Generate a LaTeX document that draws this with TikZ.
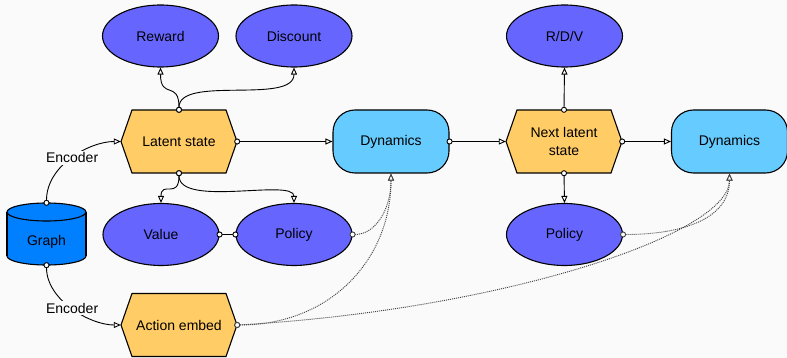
\documentclass[tikz,border=0pt]{standalone}
\usepackage{fontspec}
\setmainfont{Liberation Sans}
\usetikzlibrary{arrows.meta,shapes.geometric}
\definecolor{bgc}{HTML}{FAFAFA}
\definecolor{ellc}{HTML}{6666FF}
\definecolor{hexc}{HTML}{FFCC66}
\definecolor{dync}{HTML}{66CCFF}
\definecolor{cylc}{HTML}{007FFF}
\newcommand\myhex[3]{%
  \path[draw, line width=1.1pt, fill=hexc, shift={#2}] (-58,0) -- (-47,-31.5) -- (47,-31.5) -- (58,0) -- (47,31.5) -- (-47,31.5) -- cycle;
  \node[hexlbl] (#1) at #2 {#3};}
\begin{document}
\begin{tikzpicture}[x=1pt,y=-1pt,
  font=\fontsize{14}{18}\selectfont,
  ell/.style={ellipse, draw, line width=1.1pt, fill=ellc, minimum width=116pt, minimum height=62pt, inner sep=0pt},
  dyn/.style={rectangle, rounded corners=22pt, draw, line width=1.1pt, fill=dync, minimum width=116pt, minimum height=63pt, inner sep=0pt},
  hexlbl/.style={rectangle, minimum width=116pt, minimum height=63pt, inner sep=0pt, align=center},
  conn/.style={line width=0.9pt, {Circle[fill=white,length=6pt,width=6pt]}-{Triangle[fill=white,length=7pt,width=6pt]}, shorten <=-3pt},
  dots/.style={conn, dash pattern=on 1pt off 1pt, draw=black!75},
  twodots/.style={line width=0.9pt, {Circle[fill=white,length=6pt,width=6pt]}-{Circle[fill=white,length=6pt,width=6pt]}, shorten <=-3pt, shorten >=-3pt},
  lbl/.style={fill=bgc, inner sep=2pt}
]
\fill[bgc] (0,0) rectangle (787,358);
\useasboundingbox (0,0) rectangle (787,358);

% ellipses
\node[ell] (reward) at (160.5,36) {Reward};
\node[ell] (discount) at (294,36) {Discount};
\node[ell] (rdv) at (564.5,36) {R/D/V};
\node[ell] (value) at (161,234.5) {Value};
\node[ell] (policy1) at (294,234.5) {Policy};
\node[ell] (policy2) at (564.5,234.5) {Policy};

% hexagons
\myhex{lat}{(179,141.5)}{Latent state}
\myhex{next}{(564,141.5)}{Next latent\\state}
\myhex{action}{(179,325)}{Action embed}

% dynamics
\node[dyn] (dyn1) at (391,141.5) {Dynamics};
\node[dyn] (dyn2) at (729.5,141.5) {Dynamics};

% cylinder
\fill[cylc, draw=black, line width=1.1pt] (46.5,256) ellipse [x radius=39.5, y radius=9];
\fill[cylc] (7,212) rectangle (86,256);
\draw[line width=1.1pt] (7,212) -- (7,256) (86,212) -- (86,256);
\fill[cylc, draw=black, line width=1.1pt] (46.5,212) ellipse [x radius=39.5, y radius=9];
\node[minimum width=79pt, minimum height=62pt, inner sep=0pt] (graph) at (46.5,234) {};
\node (graphlbl) at (46.5,242) {Graph};

% connectors
\draw[conn] (lat.north) .. controls (179,80) and (160.5,100) .. (reward.south);
\draw[conn] (lat.north) .. controls (179,75) and (294,105) .. (discount.south);
\draw[conn] (lat.south) .. controls (179,200) and (161,180) .. (value.north);
\draw[conn] (lat.south) .. controls (179,208) and (294,178) .. (policy1.north);
\draw[twodots] (value.east) -- (policy1.west);
\draw[conn] (lat.east) -- (dyn1.west);
\draw[conn] (dyn1.east) -- (next.west);
\draw[conn] (next.north) -- (rdv.south);
\draw[conn] (next.south) -- (policy2.north);
\draw[conn] (next.east) -- (dyn2.west);

\draw[dots] (policy1.east) .. controls (375,234.5) and (391,210) .. (dyn1.south);
\draw[dots] (action.east) .. controls (330,325) and (391,260) .. (dyn1.south);
\draw[dots] (action.east) .. controls (500,310) and (729.5,235) .. (dyn2.south);
\draw[dots] (policy2.east) .. controls (680,234.5) and (729.5,220) .. (dyn2.south);

\draw[conn] (graph.north) .. controls (46.5,165) and (90,141.5) .. node[lbl,pos=0.5] (enc1) {Encoder} (lat.west);
\draw[conn] (graph.south) .. controls (46.5,300) and (90,325) .. node[lbl,pos=0.5] (enc2) {Encoder} (action.west);
\end{tikzpicture}
\end{document}
